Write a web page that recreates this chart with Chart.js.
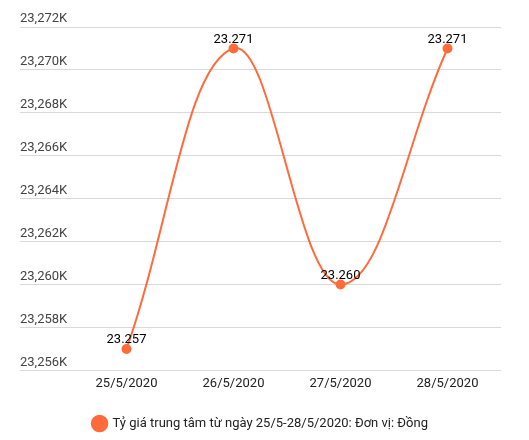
<!DOCTYPE html>
<html>
<head>
<meta charset="utf-8">
<script src="https://cdn.jsdelivr.net/npm/chart.js@4"></script>
<style>
html,body{margin:0;padding:0;background:#fff;}
canvas{display:block;}
</style>
</head>
<body>
<canvas id="c" width="529" height="440"></canvas>
<script>
const categories = ["25/5/2020", "26/5/2020", "27/5/2020", "28/5/2020"];
const rates = [23257, 23271, 23260, 23271];
const pointLabels = ["23.257", "23.271", "23.260", "23.271"];
const seriesName = "Tỷ giá trung tâm từ ngày 25/5-28/5/2020: Đơn vị: Đồng";
const yMin = 23256, yMax = 23272, yStep = 2;

const FONT = "Roboto, 'Liberation Sans', Arial, sans-serif";
const ORANGE = "#ff6b3a";

const valueLabels = {
  id: "valueLabels",
  afterDatasetsDraw(chart) {
    const ctx = chart.ctx;
    const meta = chart.getDatasetMeta(0);
    ctx.save();
    ctx.font = "13px " + FONT;
    ctx.fillStyle = "#000";
    ctx.textAlign = "center";
    ctx.textBaseline = "middle";
    meta.data.forEach((pt, i) => {
      ctx.fillText(pointLabels[i], pt.x, pt.y - 9);
    });
    ctx.restore();
  }
};

new Chart(document.getElementById("c"), {
  type: "line",
  data: {
    labels: categories,
    datasets: [{
      label: seriesName,
      data: rates,
      borderColor: ORANGE,
      backgroundColor: ORANGE,
      pointBackgroundColor: ORANGE,
      pointBorderColor: ORANGE,
      pointRadius: 4,
      borderWidth: 2,
      tension: 0.4,
      fill: false
    }]
  },
  options: {
    responsive: false,
    animation: false,
    layout: { padding: { left: 20, right: 28, top: 27, bottom: 0 } },
    plugins: {
      legend: {
        position: "bottom",
        labels: {
          usePointStyle: true,
          pointStyle: "circle",
          boxHeight: 11,
          color: "#222",
          font: { family: FONT, size: 13 },
          padding: 12
        }
      },
      tooltip: { enabled: false }
    },
    scales: {
      x: {
        offset: true,
        afterFit(scale) { scale.height += 15; },
        grid: { display: false },
        border: { display: false },
        ticks: { color: "#222", font: { family: FONT, size: 13 }, padding: -2, maxRotation: 0 }
      },
      y: {
        min: yMin,
        max: yMax,
        afterFit(scale) { scale.width = 53; },
        border: { display: false },
        grid: { color: "#d9d9d9", tickLength: 53, tickColor: "#d9d9d9" },
        ticks: {
          stepSize: yStep,
          crossAlign: "far",
          labelOffset: -8,
          padding: 0,
          color: "#444",
          font: { family: FONT, size: 13 },
          callback: v => v.toLocaleString("en-US") + "K"
        }
      }
    }
  },
  plugins: [valueLabels]
});
</script>
</body>
</html>
